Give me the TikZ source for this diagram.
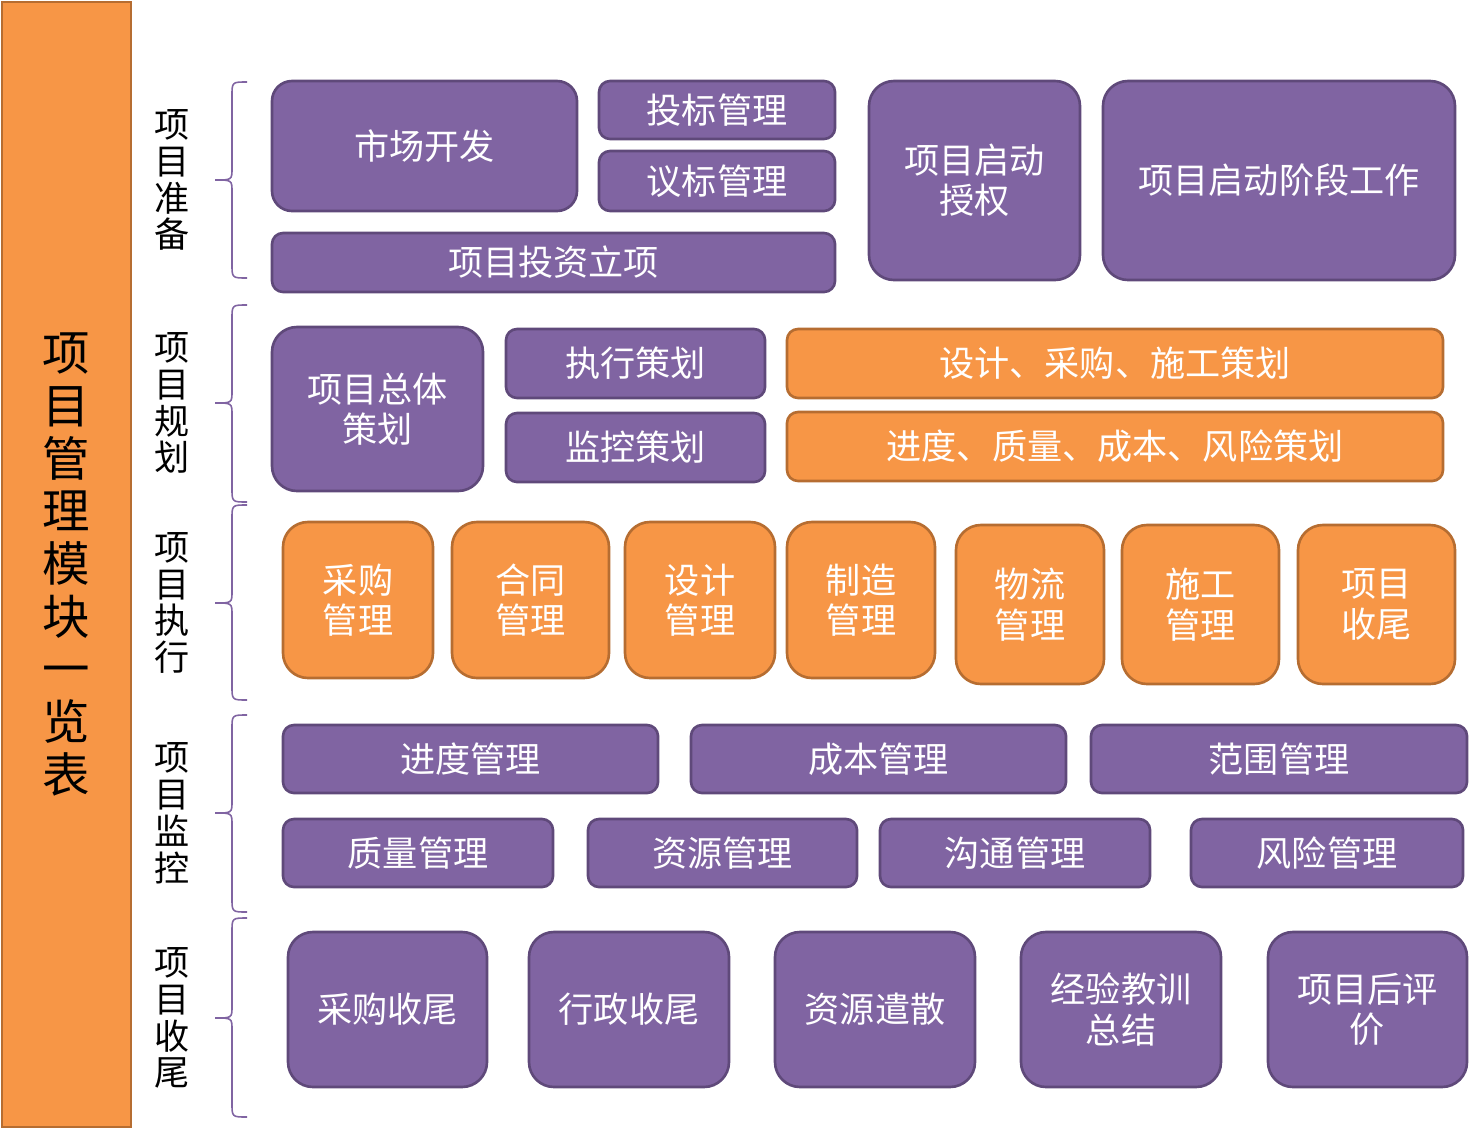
\documentclass[tikz,border=0pt]{standalone}
\usepackage{fontspec}
\setmainfont{Noto Sans CJK SC}
\definecolor{modpurple}{HTML}{8064A2}
\definecolor{modpurpleline}{HTML}{5F497A}
\definecolor{modorange}{HTML}{F79646}
\definecolor{modorangeline}{HTML}{B66D31}
\tikzset{
  purplebox/.style={draw=modpurpleline,fill=modpurple,line width=1.5pt,text=white,rounded corners=0.22cm,align=center,font=\fontsize{20}{23}\selectfont,inner sep=0pt},
  orangebox/.style={draw=modorangeline,fill=modorange,line width=1.5pt,text=white,rounded corners=0.22cm,align=center,font=\fontsize{20}{23}\selectfont,inner sep=0pt},
  bigcorner/.style={rounded corners=0.5cm},
  stagelabel/.style={align=center,font=\fontsize{20}{21}\selectfont,text=black},
  stagebrace/.style={draw=modpurple,line width=0.9pt}
}
% box from pixel corners: style, name, x1, y1, x2, y2, text
\newcommand{\modbox}[7]{%
  \node[#1,minimum width={(#5-#3)*0.02cm},minimum height={(#6-#4)*0.02cm}] (#2) at ({(#3+#5)/2},{(#4+#6)/2}) {#7};}
% brace: top, middle, bottom
\newcommand{\stagebr}[3]{%
  \draw[stagebrace] (247,#1) .. controls (232,#1) .. (232,#1+14) -- (232,#2-12) .. controls (232,#2) .. (215,#2) .. controls (232,#2) .. (232,#2+12) -- (232,#3-14) .. controls (232,#3) .. (247,#3);}
\begin{document}
\begin{tikzpicture}[x=0.02cm,y=-0.02cm]
\useasboundingbox (0,0) rectangle (1469,1129);

\node[draw=modorangeline,fill=modorange,line width=1.5pt,minimum width=2.58cm,minimum height=22.5cm,inner sep=0pt,align=center,font=\fontsize{27}{30}\selectfont] (title) at (66.5,564.5) {项\\目\\管\\理\\模\\块\\一\\览\\表};

\node[stagelabel] (prep) at (172,180) {项\\目\\准\\备};
\node[stagelabel] (plan) at (172,403) {项\\目\\规\\划};
\node[stagelabel] (exec) at (172,603) {项\\目\\执\\行};
\node[stagelabel] (ctrl) at (172,813) {项\\目\\监\\控};
\node[stagelabel] (close) at (172,1018) {项\\目\\收\\尾};

\stagebr{82}{180}{278}
\stagebr{305}{403}{502}
\stagebr{505}{603}{700}
\stagebr{715}{813}{912}
\stagebr{918}{1018}{1117}

% preparation
\modbox{purplebox,rounded corners=0.4cm}{market}{272}{81}{577}{211}{市场开发}
\modbox{purplebox}{bid}{599}{81}{835}{139}{投标管理}
\modbox{purplebox}{nego}{599}{151}{835}{211}{议标管理}
\modbox{purplebox}{invest}{272}{233}{835}{292}{项目投资立项}
\modbox{purplebox,bigcorner}{auth}{869}{81}{1080}{280}{项目启动\\授权}
\modbox{purplebox,bigcorner}{startup}{1103}{81}{1455}{280}{项目启动阶段工作}

% planning
\modbox{purplebox,bigcorner}{overall}{272}{327}{483}{491}{项目总体\\策划}
\modbox{purplebox}{execplan}{506}{329}{765}{398}{执行策划}
\modbox{purplebox}{ctrlplan}{506}{413}{765}{482}{监控策划}
\modbox{orangebox}{dpcplan}{787}{329}{1443}{398}{设计、采购、施工策划}
\modbox{orangebox}{riskplan}{787}{412}{1443}{481}{进度、质量、成本、风险策划}

% execution
\modbox{orangebox,bigcorner}{purch}{283}{522}{433}{678}{采购\\管理}
\modbox{orangebox,bigcorner}{contract}{452}{522}{609}{678}{合同\\管理}
\modbox{orangebox,bigcorner}{design}{625}{522}{775}{678}{设计\\管理}
\modbox{orangebox,bigcorner}{manuf}{787}{522}{935}{678}{制造\\管理}
\modbox{orangebox,bigcorner}{logist}{956}{525}{1104}{684}{物流\\管理}
\modbox{orangebox,bigcorner}{constr}{1122}{525}{1279}{684}{施工\\管理}
\modbox{orangebox,bigcorner}{finish}{1298}{525}{1455}{684}{项目\\收尾}

% monitoring
\modbox{purplebox}{sched}{283}{725}{658}{793}{进度管理}
\modbox{purplebox}{cost}{691}{725}{1066}{793}{成本管理}
\modbox{purplebox}{scope}{1091}{725}{1467}{793}{范围管理}
\modbox{purplebox}{quality}{283}{819}{553}{887}{质量管理}
\modbox{purplebox}{resource}{588}{819}{857}{887}{资源管理}
\modbox{purplebox}{comm}{880}{819}{1150}{887}{沟通管理}
\modbox{purplebox}{risk}{1191}{819}{1463}{887}{风险管理}

% closing
\modbox{purplebox,bigcorner}{purclose}{288}{932}{487}{1087}{采购收尾}
\modbox{purplebox,bigcorner}{admclose}{529}{932}{729}{1087}{行政收尾}
\modbox{purplebox,bigcorner}{release}{775}{932}{975}{1087}{资源遣散}
\modbox{purplebox,bigcorner}{lessons}{1021}{932}{1221}{1087}{经验教训\\总结}
\modbox{purplebox,bigcorner}{review}{1268}{932}{1467}{1087}{项目后评\\价}
\end{tikzpicture}
\end{document}
